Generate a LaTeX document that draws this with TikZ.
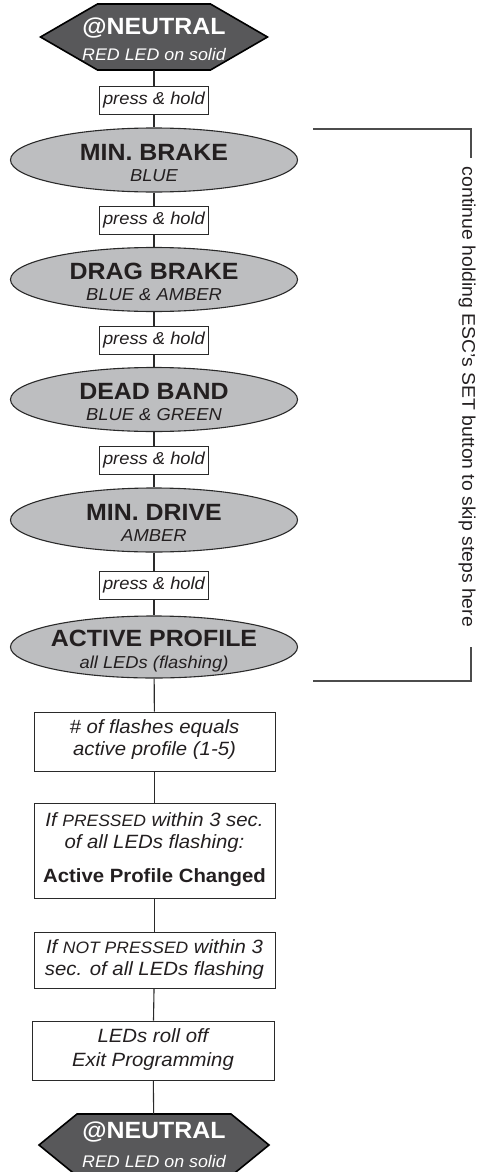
\documentclass[tikz,border=0pt]{standalone}
\usepackage{fontspec}
\setmainfont{Liberation Sans}[FakeStretch=1.06]
\usetikzlibrary{shapes.geometric,backgrounds}
\definecolor{ovalgray}{HTML}{BDBEC0}
\definecolor{hexgray}{HTML}{58585A}
\definecolor{txt}{HTML}{231F20}
\definecolor{edge}{HTML}{2A2A2A}
\tikzset{
  conn/.style={draw=edge, line width=1.1pt},
  pbox/.style={draw=edge, line width=1pt, fill=white, minimum width=109pt, minimum height=28pt, inner sep=0pt, text=txt, font=\fontsize{17.3}{20}\selectfont\itshape},
  bigbox/.style={draw=edge, line width=1pt, fill=white, minimum width=241pt, inner sep=0pt},
  oval/.style={ellipse, draw=edge, line width=1.1pt, fill=ovalgray, minimum width=287pt, minimum height=64pt, inner sep=0pt},
  ttl/.style={font=\fontsize{23.5}{26}\selectfont\bfseries, anchor=base, inner sep=0pt, text=txt},
  sub/.style={font=\fontsize{17.3}{20}\selectfont\itshape, anchor=base, inner sep=0pt, text=txt},
  boxt/.style={font=\fontsize{19.2}{22}\selectfont\itshape, anchor=base, inner sep=0pt, text=txt},
  boxb/.style={font=\fontsize{19.2}{22}\selectfont\bfseries, anchor=base, inner sep=0pt, text=txt},
  hexshape/.style={draw=black, line width=1.6pt, fill=hexgray},
  hexttl/.style={font=\fontsize{23.5}{26}\selectfont\bfseries, anchor=base, inner sep=0pt, text=white},
  hexsub/.style={font=\fontsize{16.8}{20}\selectfont\itshape, anchor=base, inner sep=0pt, text=white},
  hexbody/.style={minimum height=#1, inner sep=0pt, outer sep=0pt},
  sidetext/.style={font=\fontsize{18.3}{22}\selectfont, rotate=-90, inner sep=0pt, text=txt},
}
\begin{document}
\begin{tikzpicture}[x=1pt,y=-1pt]
\useasboundingbox (0,0) rectangle (479,1172);

% top hexagon
\node[hexbody=66pt, minimum width=113pt] (H1) at (154,37) {};
\begin{scope}[on background layer]
\draw[hexshape] (H1.north west) -- (H1.north east) -- ([xshift=57pt]H1.east) -- (H1.south east) -- (H1.south west) -- ([xshift=-57pt]H1.west) -- cycle;
\end{scope}
\node[hexttl] (H1t) at (154,35) {@NEUTRAL};
\node[hexsub] (H1s) at (154,60) {RED LED on solid};

\node[pbox] (P1) at (154,100) {press \& hold};

\node[oval] (E1) at (154,160) {};
\node[ttl] (E1t) at (154,160) {MIN. BRAKE};
\node[sub] (E1s) at (154,181.5) {BLUE};

\node[pbox] (P2) at (154,220) {press \& hold};

\node[oval] (E2) at (154,279.5) {};
\node[ttl] (E2t) at (154,279) {DRAG BRAKE};
\node[sub] (E2s) at (154,300) {BLUE \& AMBER};

\node[pbox] (P3) at (154,340.5) {press \& hold};

\node[oval] (E3) at (154,399.5) {};
\node[ttl] (E3t) at (154,399) {DEAD BAND};
\node[sub] (E3s) at (154,420) {BLUE \& GREEN};

\node[pbox] (P4) at (154,460.5) {press \& hold};

\node[oval] (E4) at (154,520) {};
\node[ttl] (E4t) at (154,520) {MIN. DRIVE};
\node[sub] (E4s) at (154,541) {AMBER};

\node[pbox] (P5) at (154,585.5) {press \& hold};

\node[oval, minimum height=62pt] (E5) at (154,647) {};
\node[ttl] (E5t) at (154,646) {ACTIVE PROFILE};
\node[sub] (E5s) at (154,668) {all LEDs (flashing)};

% boxes
\node[bigbox, minimum height=59pt] (B6) at (154.5,741.5) {};
\node[boxt] (B6a) at (154.5,733) {\# of flashes equals};
\node[boxt] (B6b) at (154.5,755) {active profile (1-5)};

\node[bigbox, minimum height=95pt] (B7) at (154.5,850.5) {};
\node[boxt] (B7a) at (154.5,826) {If {\fontsize{16.5}{18}\selectfont PRESSED} within 3 sec.};
\node[boxt] (B7b) at (154.5,848) {of all LEDs flashing:};
\node[boxb] (B7c) at (154.5,882) {Active Profile Changed};

\node[bigbox, minimum height=56pt] (B8) at (154.5,960) {};
\node[boxt] (B8a) at (154.5,953) {If {\fontsize{16.5}{18}\selectfont NOT PRESSED} within 3};
\node[boxt] (B8b) at (154.5,975) {sec. of all LEDs flashing};

\node[bigbox, minimum height=59pt, minimum width=242pt] (B9) at (153,1050.5) {};
\node[boxt] (B9a) at (153,1042) {LEDs roll off};
\node[boxt] (B9b) at (153,1066) {Exit Programming};

% bottom hexagon
\node[hexbody=62pt, minimum width=154pt] (H2) at (154,1145) {};
\begin{scope}[on background layer]
\draw[hexshape] (H2.north west) -- (H2.north east) -- ([xshift=38pt]H2.east) -- (H2.south east) -- (H2.south west) -- ([xshift=-38pt]H2.west) -- cycle;
\end{scope}
\node[hexttl] (H2t) at (154,1138) {@NEUTRAL};
\node[hexsub] (H2s) at (154,1167) {RED LED on solid};

% connectors
\draw[conn] (H1) -- (P1);
\draw[conn] (P1) -- (E1);
\draw[conn] (E1) -- (P2);
\draw[conn] (P2) -- (E2);
\draw[conn] (E2) -- (P3);
\draw[conn] (P3) -- (E3);
\draw[conn] (E3) -- (P4);
\draw[conn] (P4) -- (E4);
\draw[conn] (E4) -- (P5);
\draw[conn] (P5) -- (E5);
\draw[conn] (E5) -- (B6);
\draw[conn] (B6) -- (B7);
\draw[conn] (B7) -- (B8);
\draw[conn] (B8) -- (B9);
\draw[conn] (B9) -- (H2);

% side bracket
\node[sidetext] (S) at (467,397) {continue holding ESC's SET button to skip steps here};
\coordinate (bt) at (313,129);
\coordinate (btc) at (471,129);
\coordinate (btend) at (471,158);
\coordinate (bbstart) at (471,647);
\coordinate (bbc) at (471,681);
\coordinate (bb) at (313,681);
\draw[conn, draw=black!70] (bt) -- (btc) -- (btend);
\draw[conn, draw=black!70] (bbstart) -- (bbc) -- (bb);
\end{tikzpicture}
\end{document}
